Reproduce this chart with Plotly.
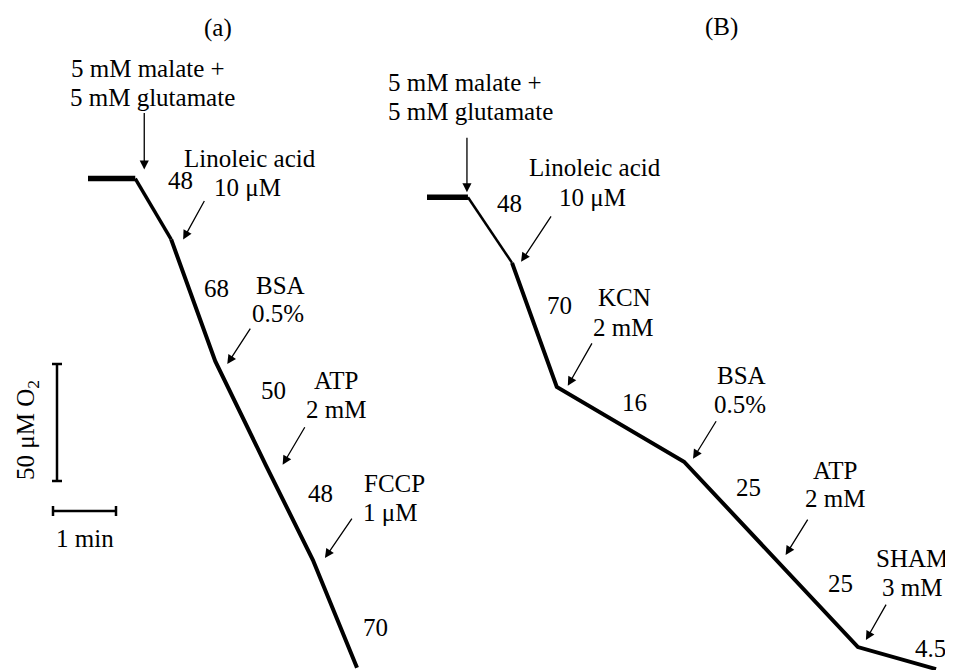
import plotly.graph_objects as go

# ---------------- data ----------------
# Panel (a): oxygen trace vertices (time in min from start of trace, O2 in µM)
time_a = [0.00, 0.75, 1.32, 2.02, 2.82, 3.57, 4.27]
o2_a = [210.0, 210.0, 184.0, 132.0, 87.7, 47.0, 1.0]
events_a = ["5 mM malate +<br>5 mM glutamate", "Linoleic acid<br>10 μM",
            "BSA<br>0.5%", "ATP<br>2 mM", "FCCP<br>1 μM"]
event_vertex_a = [1, 2, 3, 4, 5]
rates_a = ["48", "68", "50", "48", "70"]

# Panel (B)
time_b = [0.00, 0.65, 1.35, 2.06, 4.08, 5.47, 6.84, 8.08]
o2_b = [202.0, 202.0, 174.0, 121.0, 89.0, 49.1, 9.8, 0.4]
events_b = ["5 mM malate +<br>5 mM glutamate", "Linoleic acid<br>10 μM",
            "KCN<br>2 mM", "BSA<br>0.5%", "ATP<br>2 mM", "SHAM<br>3 mM"]
event_vertex_b = [1, 2, 3, 4, 5, 6]
rates_b = ["48", "70", "16", "25", "25", "4.5"]

scale_time = 1.0    # min
scale_o2 = 50.0     # µM

# ---------------- layout / styling ----------------
OFF = 8                      # page body margin of the html page
W, H = 953 - OFF, 670 - OFF
PX_PER_MIN = 63.0
PX_PER_UM = 2.34
X_MAX = W / PX_PER_MIN
Y_MAX = H / PX_PER_UM
FONT = "Liberation Serif, Times New Roman, serif"
FS = 25


def px2x(px):
    return (px - OFF) / PX_PER_MIN


def py2y(py):
    return (H - (py - OFF)) / PX_PER_UM


T0_A = px2x(88)
T0_B = px2x(427)

fig = go.Figure()


def add_trace(t0, times, o2, parts):
    for (i0, i1, w) in parts:
        fig.add_trace(go.Scatter(
            x=[t0 + t for t in times[i0:i1 + 1]], y=o2[i0:i1 + 1],
            mode="lines", line=dict(color="black", width=w),
            hoverinfo="skip", showlegend=False))


add_trace(T0_A, time_a, o2_a, [(0, 1, 5.5), (1, 2, 3.5), (2, 6, 4)])
add_trace(T0_B, time_b, o2_b, [(0, 1, 5.5), (1, 2, 2.5), (2, 7, 4)])

# scale bars
sb_x = px2x(57)
sb_y0 = py2y(481)
cap_t = 5 / PX_PER_MIN
fig.add_trace(go.Scatter(
    x=[sb_x, sb_x, None, sb_x - cap_t, sb_x + cap_t, None, sb_x - cap_t, sb_x + cap_t],
    y=[sb_y0, sb_y0 + scale_o2, None, sb_y0, sb_y0, None, sb_y0 + scale_o2, sb_y0 + scale_o2],
    mode="lines", line=dict(color="black", width=2.5), hoverinfo="skip", showlegend=False))
hb_x0 = px2x(53)
hb_y = py2y(511)
cap_o = 5 / PX_PER_UM
fig.add_trace(go.Scatter(
    x=[hb_x0, hb_x0 + scale_time, None, hb_x0, hb_x0, None, hb_x0 + scale_time, hb_x0 + scale_time],
    y=[hb_y, hb_y, None, hb_y - cap_o, hb_y + cap_o, None, hb_y - cap_o, hb_y + cap_o],
    mode="lines", line=dict(color="black", width=2.5), hoverinfo="skip", showlegend=False))

# arrows: (xshift, yshift, ax, ay) in pixels
arrow_style_a = [(9, 9, 0, -58), (12, 0, 22, -40), (12, -3, 24, -37), (17, 0, 23, -39), (12, 2, 28, -41)]
arrow_style_b = [(-1, 5, 0, -56), (9, 1, 31, -47), (11, 1, 25, -44), (9, 3, 24, -39), (14, 0, 23, -37), (8, 7, 21, -37)]


def add_arrows(t0, times, o2, idxs, styles):
    for idx, (xs, ys, ax, ay) in zip(idxs, styles):
        fig.add_annotation(x=t0 + times[idx], y=o2[idx], xshift=xs, yshift=ys,
                           ax=ax, ay=ay, text="", showarrow=True,
                           arrowhead=2, arrowsize=1.4, arrowwidth=1.3,
                           arrowcolor="black", standoff=0, startstandoff=0)


add_arrows(T0_A, time_a, o2_a, event_vertex_a, arrow_style_a)
add_arrows(T0_B, time_b, o2_b, event_vertex_b, arrow_style_b)

# text positions (pixel centres of each line, reference picture coordinates)
event_pos_a = [[(148, 68), (152, 97)], [(250, 158), (247, 187)], [(280, 285), (278, 313)],
               [(336, 380), (336, 409)], [(394, 483), (390, 512)]]
rate_pos_a = [(180, 180), (216, 288), (273, 390), (320, 493), (375, 627)]
event_pos_b = [[(465, 82), (470, 111)], [(595, 167), (592, 197)], [(624, 297), (623, 327)],
               [(741, 375), (740, 404)], [(835, 470), (835, 498)], [(912, 558), (912, 587)]]
rate_pos_b = [(509, 203), (559, 305), (634, 402), (748, 487), (840, 583), (930, 648)]


def txt(s, px, py, angle=0, size=FS):
    fig.add_annotation(x=px2x(px), y=py2y(py), text=s, showarrow=False,
                       xanchor="center", yanchor="middle", textangle=angle,
                       font=dict(family=FONT, size=size, color="black"))


for labels, positions in ((events_a, event_pos_a), (events_b, event_pos_b)):
    for lab, pos in zip(labels, positions):
        for line, (px, py) in zip(lab.split("<br>"), pos):
            txt(line, px, py)
for rates, positions in ((rates_a, rate_pos_a), (rates_b, rate_pos_b)):
    for r, (px, py) in zip(rates, positions):
        txt(r, px, py)

txt("(a)", 218, 28)
txt("(B)", 721, 27)
txt("50 μM O<sub>2</sub>", 27, 430, angle=-90)
txt("1 min", 85, 538)

fig.update_layout(
    width=W, height=H, margin=dict(l=0, r=0, t=0, b=0),
    paper_bgcolor="white", plot_bgcolor="white", showlegend=False,
    xaxis=dict(range=[0, X_MAX], visible=False, fixedrange=True),
    yaxis=dict(range=[0, Y_MAX], visible=False, fixedrange=True),
)

fig.write_html("out.html")
